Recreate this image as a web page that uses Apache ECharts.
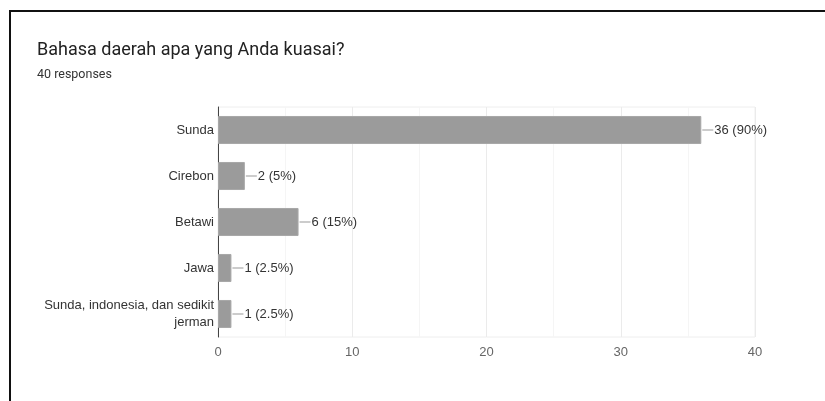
<!DOCTYPE html>
<html><head><meta charset="utf-8">
<script src="https://cdn.jsdelivr.net/npm/echarts@6/dist/echarts.min.js"></script>
<style>
html,body{margin:0;padding:0;background:#fff;}
#frame{position:absolute;left:9px;top:10px;width:830px;height:400px;border-top:2px solid #111;border-left:2px solid #111;}
#c{position:absolute;left:0;top:0;width:825px;height:401px;}
</style></head>
<body><div id="frame"></div><div id="c"></div>
<script>
const titleText = 'Bahasa daerah apa yang Anda kuasai?';
const subtitleText = '40 responses';
const categories = ['Sunda', 'Cirebon', 'Betawi', 'Jawa', 'Sunda, indonesia, dan sedikit\njerman'];
const counts = [36, 2, 6, 1, 1];
const percents = ['90%', '5%', '15%', '2.5%', '2.5%'];
const xTicks = [0, 10, 20, 30, 40];
const labelFont = '"Liberation Sans", Arial, sans-serif';

const chart = echarts.init(document.getElementById('c'), null, {renderer: 'canvas'});
chart.setOption({
  animation: false,
  backgroundColor: 'transparent',
  title: [
    {text: titleText, left: 37, top: 41, padding: 0, textStyle: {fontFamily: 'Roboto', fontSize: 18, fontWeight: 'normal', color: '#222'}},
    {text: subtitleText, left: 37, top: 68, padding: 0, textStyle: {fontFamily: 'Roboto', fontSize: 12.5, fontWeight: 'normal', color: '#333'}}
  ],
  grid: {left: 218, right: 70, top: 107, bottom: 64, show: true, borderColor: '#eeeeee', borderWidth: 1},
  xAxis: {
    type: 'value', min: xTicks[0], max: xTicks[xTicks.length - 1], interval: 10,
    axisLine: {show: false}, axisTick: {show: false},
    axisLabel: {color: '#666', fontFamily: labelFont, fontSize: 13, margin: 9},
    splitLine: {lineStyle: {color: '#ebebeb'}},
    minorTick: {show: false, splitNumber: 2},
    minorSplitLine: {show: true, lineStyle: {color: '#f5f5f5'}}
  },
  yAxis: {
    type: 'category', inverse: true, data: categories,
    axisLine: {show: true, lineStyle: {color: '#444', width: 1}},
    axisTick: {show: false},
    axisLabel: {color: '#333', fontFamily: labelFont, fontSize: 13, margin: 4, lineHeight: 17, align: 'right'}
  },
  series: [{
    type: 'bar',
    data: counts,
    barCategoryGap: '39%',
    itemStyle: {color: '#9b9b9b', borderColor: '#a8a8a8', borderWidth: 1},
    label: {
      show: true, position: 'right', distance: 1,
      color: '#333', fontFamily: labelFont, fontSize: 13,
      formatter: p => '{l|}{t|' + counts[p.dataIndex] + ' (' + percents[p.dataIndex] + ')}',
      rich: {
        l: {width: 11, height: 1, backgroundColor: '#999', verticalAlign: 'middle'},
        t: {color: '#333', fontFamily: labelFont, fontSize: 13, padding: [0, 0, 0, 1]}
      }
    }
  }]
});
</script></body></html>
